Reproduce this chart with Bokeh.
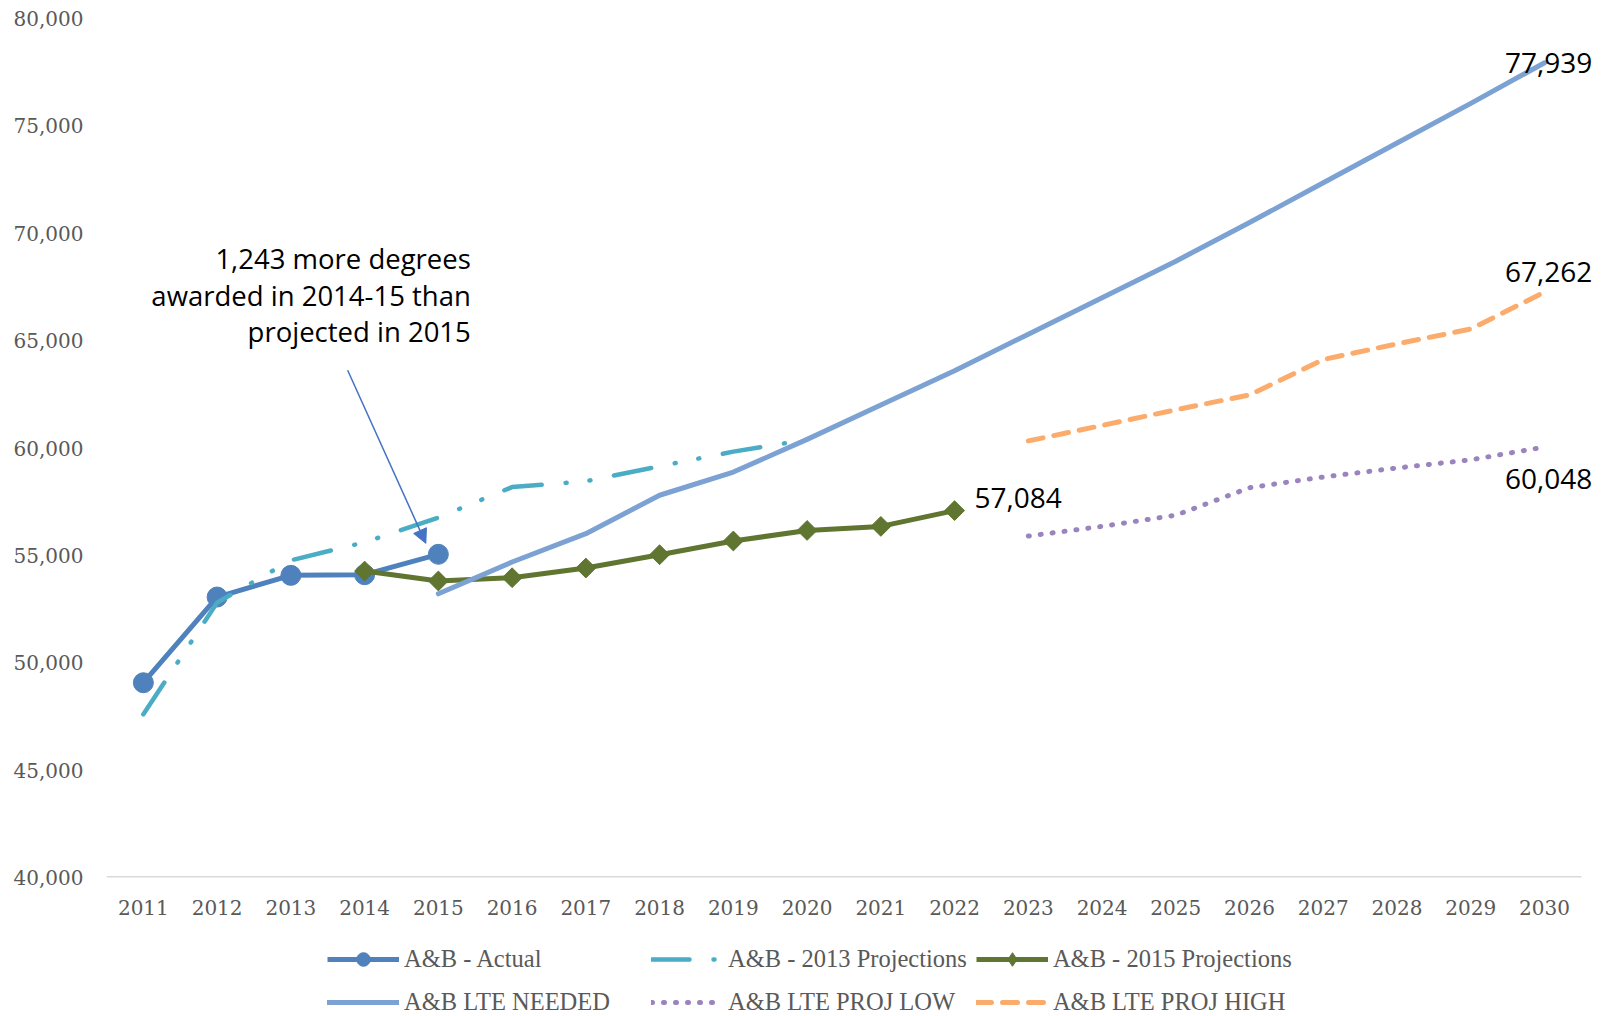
import math
from bokeh.plotting import figure
from bokeh.layouts import column
from bokeh.models import (Range1d, FixedTicker, NumeralTickFormatter, Legend, LegendItem,
                          Label, Arrow, NormalHead)
from bokeh.embed import file_html
from bokeh.resources import INLINE

# ---------------- data ----------------
years = [2011, 2012, 2013, 2014, 2015, 2016, 2017, 2018, 2019, 2020,
         2021, 2022, 2023, 2024, 2025, 2026, 2027, 2028, 2029, 2030]
y_ticks = [40000, 45000, 50000, 55000, 60000, 65000, 70000, 75000, 80000]

actual_years = [2011, 2012, 2013, 2014, 2015]
actual = [49070, 53060, 54070, 54100, 55050]

proj2013_years = [2011, 2012, 2013, 2014, 2015, 2016, 2017, 2018, 2019, 2020]
proj2013 = [47600, 52800, 54770, 55610, 56760, 58180, 58450, 59150, 59830, 60390]

proj2015_years = [2014, 2015, 2016, 2017, 2018, 2019, 2020, 2021, 2022]
proj2015 = [54270, 53807, 53960, 54410, 55030, 55670, 56160, 56350, 57084]

needed_years = [2015, 2016, 2017, 2018, 2019, 2020, 2021, 2022,
                2023, 2024, 2025, 2026, 2027, 2028, 2029, 2030]
needed = [53210, 54690, 56010, 57800, 58880, 60400, 62000, 63600,
          65300, 67000, 68700, 70500, 72350, 74200, 76050, 77939]

low_years = [2023, 2024, 2025, 2026, 2027, 2028, 2029, 2030]
low = [55900, 56350, 56870, 58150, 58650, 59070, 59450, 60048]

high_years = [2023, 2024, 2025, 2026, 2027, 2028, 2029, 2030]
high = [60330, 61050, 61780, 62470, 64120, 64850, 65540, 67262]

series_names = ["A&B - Actual", "A&B - 2013 Projections", "A&B - 2015 Projections",
                "A&B LTE NEEDED", "A&B LTE PROJ LOW", "A&B LTE PROJ HIGH"]
series_x = [actual_years, proj2013_years, proj2015_years, needed_years, low_years, high_years]
series_y = [actual, proj2013, proj2015, needed, low, high]

annot_lines = ["1,243 more degrees", "awarded in 2014-15 than", "projected in 2015"]
ANNOT_X = 2015.44
ANNOT_Y = [68840, 67115, 65405]
ARROW_START = (2013.77, 63620)
ARROW_END = (2014.83, 55560)

# ---------------- style ----------------
C_ACT = "#4f81bd"
C_13 = "#4bacc6"
C_15 = "#5f7530"
C_NEED = "#7ba2d3"
C_LOW = "#9b84bd"
C_HIGH = "#fbac6c"
GRAY = "#595959"

STYLES = [
    dict(line_color=C_ACT, line_width=5, line_join="round"),
    dict(line_color=C_13, line_width=4.5, line_dash="38 24 1 23 1 24",
         line_cap="round", line_join="round"),
    dict(line_color=C_15, line_width=5, line_join="round"),
    dict(line_color=C_NEED, line_width=5, line_cap="round", line_join="round"),
    dict(line_color=C_LOW, line_width=5, line_dash="1 11", line_cap="round"),
    dict(line_color=C_HIGH, line_width=5, line_dash="15 11", line_cap="round",
         line_join="round"),
]
MARKERS = {0: dict(marker="circle", size=20, angle=0, fill_color=C_ACT, line_color=C_ACT),
           2: dict(marker="square", size=14, angle=math.pi / 4, fill_color=C_15,
                   line_color=C_15)}
LEGEND_MARKERS = {0: dict(marker="circle", size=14, fill_color=C_ACT, line_color=C_ACT),
                  2: dict(marker="diamond", size=17, fill_color=C_15, line_color=C_15)}

X_PAD_RIGHT = 0.34   # extra room right of the last category for value labels

p = figure(width=1614, height=930,
           x_range=Range1d(years[0] - 0.5, years[-1] + 0.5 + X_PAD_RIGHT),
           y_range=Range1d(y_ticks[0], y_ticks[-1]),
           output_backend="svg", toolbar_location=None,
           min_border_left=106, min_border_right=8, min_border_top=18, min_border_bottom=53)
p.outline_line_color = None
p.xgrid.grid_line_color = None
p.ygrid.grid_line_color = None

# axes
p.xaxis.ticker = FixedTicker(ticks=years)
p.xaxis.axis_line_color = None
p.xaxis.major_tick_line_color = None
p.xaxis.minor_tick_line_color = None
p.xaxis.major_label_text_font = "DejaVu Serif"
p.xaxis.major_label_text_font_size = "20px"
p.xaxis.major_label_text_color = GRAY
p.xaxis.major_label_standoff = 16

p.yaxis.ticker = FixedTicker(ticks=y_ticks)
p.yaxis.formatter = NumeralTickFormatter(format="0,0")
p.yaxis.axis_line_color = None
p.yaxis.major_tick_line_color = None
p.yaxis.minor_tick_line_color = None
p.yaxis.major_label_text_font = "DejaVu Serif"
p.yaxis.major_label_text_font_size = "20px"
p.yaxis.major_label_text_color = GRAY
p.yaxis.major_label_standoff = 17

# category-axis baseline spanning the category area only
p.segment(x0=[years[0] - 0.5], x1=[years[-1] + 0.5], y0=[y_ticks[0]], y1=[y_ticks[0]],
          line_color="#d9d9d9", line_width=3)

# series
for i in range(len(series_names)):
    p.line(series_x[i], series_y[i], **STYLES[i])
    if i in MARKERS:
        p.scatter(series_x[i], series_y[i], **MARKERS[i])

# end-value labels
LBL_FONT = "Open Sans"
p.add_layout(Label(x=needed_years[-1], y=needed[-1], text=f"{needed[-1]:,}",
                   text_align="center", text_baseline="middle", x_offset=4,
                   text_font=LBL_FONT, text_font_size="28px", text_color="black"))
p.add_layout(Label(x=high_years[-1], y=high[-1], text=f"{high[-1]:,}",
                   text_align="center", text_baseline="middle", x_offset=4, y_offset=20,
                   text_font=LBL_FONT, text_font_size="28px", text_color="black"))
p.add_layout(Label(x=low_years[-1], y=low[-1], text=f"{low[-1]:,}",
                   text_align="center", text_baseline="middle", x_offset=4, y_offset=-32,
                   text_font=LBL_FONT, text_font_size="28px", text_color="black"))
p.add_layout(Label(x=proj2015_years[-1], y=proj2015[-1], text=f"{proj2015[-1]:,}",
                   text_align="left", text_baseline="middle", x_offset=20, y_offset=13,
                   text_font=LBL_FONT, text_font_size="28px", text_color="black"))

# annotation
for txt, yy in zip(annot_lines, ANNOT_Y):
    p.add_layout(Label(x=ANNOT_X, y=yy, text=txt, text_align="right", text_baseline="middle",
                       text_font=LBL_FONT, text_font_size="27.5px", text_color="black"))

p.add_layout(Arrow(x_start=ARROW_START[0], y_start=ARROW_START[1],
                   x_end=ARROW_END[0], y_end=ARROW_END[1],
                   line_color="#4472c4", line_width=1.5,
                   end=NormalHead(size=14, fill_color="#4472c4", line_color="#4472c4")))

# ---------------- legend strip (series drawn off-range, only their legend glyphs show) ----
lg = figure(width=1614, height=86, x_range=Range1d(0, 1), y_range=Range1d(0, 1),
            output_backend="svg", toolbar_location=None,
            x_axis_type=None, y_axis_type=None,
            min_border_left=0, min_border_right=0, min_border_top=0, min_border_bottom=0)
lg.outline_line_color = None
lg.xgrid.grid_line_color = None
lg.ygrid.grid_line_color = None

items = []
for i, name in enumerate(series_names):
    rs = [lg.line(series_x[i], series_y[i], **STYLES[i])]
    if i in LEGEND_MARKERS:
        rs.append(lg.scatter(series_x[i], series_y[i], **LEGEND_MARKERS[i]))
    items.append(LegendItem(label=name, renderers=rs))

legend = Legend(items=items, orientation="horizontal", ncols=3, location=(221, -3))
legend.border_line_color = None
legend.background_fill_alpha = 0
legend.padding = 0
legend.margin = 0
legend.spacing = 9
legend.glyph_width = 72
legend.glyph_height = 34
legend.label_height = 34
legend.label_width = 238
legend.label_standoff = 5
legend.label_text_font = "Liberation Serif"
legend.label_text_font_size = "24.5px"
legend.label_text_color = GRAY
lg.add_layout(legend)

with open("out.html", "w") as f:
    f.write(file_html(column(p, lg), INLINE))
